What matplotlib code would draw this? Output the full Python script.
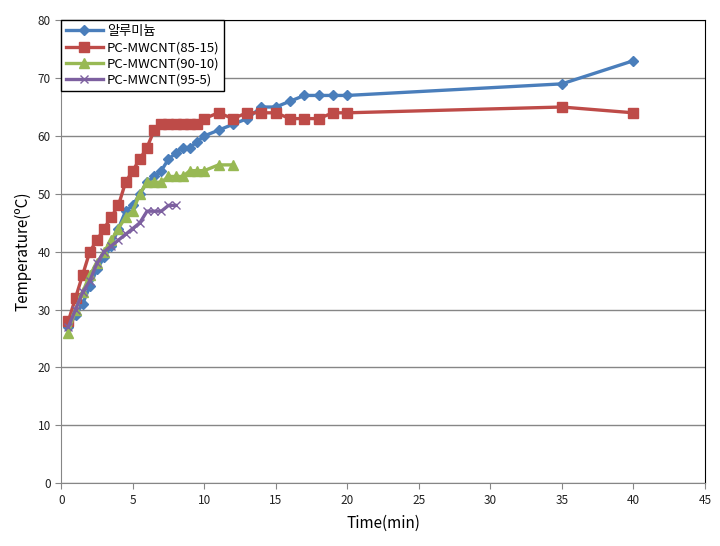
import matplotlib
matplotlib.use("Agg")
import matplotlib.pyplot as plt

plt.rcParams['font.family'] = ['Noto Sans CJK KR', 'DejaVu Sans']

# 시간(min)과 온도(℃) 값
t_al = [0.5, 1, 1.5, 2, 2.5, 3, 3.5, 4, 4.5, 5, 5.5, 6, 6.5, 7, 7.5, 8, 8.5, 9, 9.5, 10,
        11, 12, 13, 14, 15, 16, 17, 18, 19, 20, 35, 40]
temp_al = [27, 29, 31, 34, 37, 39, 41, 44, 47, 48, 50, 52, 53, 54, 56, 57, 58, 58, 59, 60,
           61, 62, 63, 65, 65, 66, 67, 67, 67, 67, 69, 73]

t_85 = [0.5, 1, 1.5, 2, 2.5, 3, 3.5, 4, 4.5, 5, 5.5, 6, 6.5, 7, 7.5, 8, 8.5, 9, 9.5, 10,
        11, 12, 13, 14, 15, 16, 17, 18, 19, 20, 35, 40]
temp_85 = [28, 32, 36, 40, 42, 44, 46, 48, 52, 54, 56, 58, 61, 62, 62, 62, 62, 62, 62, 63,
           64, 63, 64, 64, 64, 63, 63, 63, 64, 64, 65, 64]

t_90 = [0.5, 1, 1.5, 2, 2.5, 3, 3.5, 4, 4.5, 5, 5.5, 6, 6.5, 7, 7.5, 8, 8.5, 9, 9.5, 10,
        11, 12]
temp_90 = [26, 30, 33, 36, 38, 40, 42, 44, 46, 47, 50, 52, 52, 52, 53, 53, 53, 54, 54, 54,
           55, 55]

t_95 = [0.5, 1, 1.5, 2, 2.5, 3, 3.5, 4, 4.5, 5, 5.5, 6, 6.5, 7, 7.5, 8]
temp_95 = [27, 30, 33, 35, 38, 40, 41, 42, 43, 44, 45, 47, 47, 47, 48, 48]

labels = ['알루미늄', 'PC-MWCNT(85-15)', 'PC-MWCNT(90-10)', 'PC-MWCNT(95-5)']
colors = ['#4A7EBB', '#BE4B48', '#98B954', '#7D60A0']

fig = plt.figure(figsize=(7.2, 5.46), dpi=100)
ax = fig.add_axes([0.085, 0.115, 0.894, 0.848])

ax.plot(t_al, temp_al, color=colors[0], lw=2.4, marker='D', ms=5, label=labels[0])
ax.plot(t_85, temp_85, color=colors[1], lw=2.4, marker='s', ms=6.5, label=labels[1])
ax.plot(t_90, temp_90, color=colors[2], lw=2.4, marker='^', ms=6.5, label=labels[2])
ax.plot(t_95, temp_95, color=colors[3], lw=2.4, marker='x', ms=5.5, mew=1, label=labels[3])

ax.set_xlim(0, 45)
ax.set_ylim(0, 80)
ax.set_xticks(range(0, 46, 5))
ax.set_yticks(range(0, 81, 10))
ax.yaxis.grid(True, color='#868686', lw=1)
ax.set_axisbelow(True)

for s in ['left', 'bottom']:
    ax.spines[s].set_color('#868686')
for s in ['top', 'right']:
    ax.spines[s].set_color('black')
ax.tick_params(direction='out', length=4, color='#868686', labelsize=8.5,
               labelcolor='#222222')

ax.set_xlabel('Time(min)', fontsize=11, labelpad=6)
ax.set_ylabel('Temperature(ºC)', fontsize=11, labelpad=4)

leg = ax.legend(loc='upper left', bbox_to_anchor=(0, 1), borderaxespad=0,
                fontsize=9.5, fancybox=False, framealpha=1, edgecolor='black',
                handlelength=2.8, labelspacing=0.25, borderpad=0.35, handletextpad=0.3)
leg.get_frame().set_linewidth(1)

fig.savefig('out.png', dpi=100)
